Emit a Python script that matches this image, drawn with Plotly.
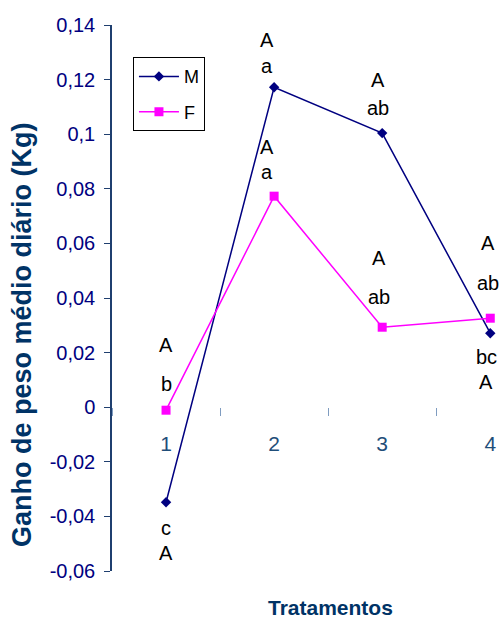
import plotly.graph_objects as go

# data
tratamentos = ["1", "2", "3", "4"]
ganho_m = [-0.0348, 0.1172, 0.1004, 0.0271]
ganho_f = [-0.0011, 0.0773, 0.0293, 0.0326]

letras_min_m = ["c", "a", "ab", "bc"]
letras_mai_m = ["A", "A", "A", "A"]
letras_min_f = ["b", "a", "ab", "ab"]
letras_mai_f = ["A", "A", "A", "A"]

y_tickvals = [0.14, 0.12, 0.10, 0.08, 0.06, 0.04, 0.02, 0, -0.02, -0.04, -0.06]
y_ticktext = ["0,14", "0,12", "0,1", "0,08", "0,06", "0,04", "0,02", "0",
              "-0,02", "-0,04", "-0,06"]

FONT = "Liberation Sans, Arial, sans-serif"
NAVY = "#000080"
MAGENTA = "#FF00FF"

fig = go.Figure()

fig.add_trace(go.Scatter(
    x=tratamentos, y=ganho_m, name="M", mode="lines+markers",
    line=dict(color=NAVY, width=1.5),
    marker=dict(symbol="diamond", size=8, color=NAVY),
    legendgroup="m",
))
fig.add_trace(go.Scatter(
    x=tratamentos, y=ganho_f, name="F", mode="lines+markers",
    line=dict(color=MAGENTA, width=1.5),
    marker=dict(symbol="square", size=9, color=MAGENTA),
    legendgroup="f",
))

# (dx, shift of lowercase letter, shift of uppercase letter) in pixels, + = up
offs_m = [(0, -26, -51), (-7, 21, 47), (-4, 25, 53), (-4, -24, -49)]
offs_f = [(0, 26, 65), (-7, 24, 49), (-3, 30, 69), (-2, 35, 75)]

for vals, mins, mais, offs in [
    (ganho_m, letras_min_m, letras_mai_m, offs_m),
    (ganho_f, letras_min_f, letras_mai_f, offs_f),
]:
    for i, (v, lo, up, (dx, s1, s2)) in enumerate(zip(vals, mins, mais, offs)):
        for txt, s in [(lo, s1), (up, s2)]:
            fig.add_annotation(
                x=i, y=v, xref="x", yref="y", text=txt, showarrow=False,
                xshift=dx, yshift=s, xanchor="center", yanchor="middle",
                font=dict(family=FONT, size=20, color="black"),
            )

fig.add_annotation(
    text="<b>Ganho de peso médio diário (Kg)</b>",
    xref="paper", yref="paper", x=-0.232, y=0.434, textangle=-90,
    xanchor="center", yanchor="middle",
    showarrow=False, font=dict(family=FONT, size=27, color="#003366"),
)
fig.add_annotation(
    text="<b>Tratamentos</b>",
    xref="paper", yref="paper", x=0.562, y=-0.066,
    xanchor="center", yanchor="middle",
    showarrow=False, font=dict(family=FONT, size=21, color="#003366"),
)

fig.update_xaxes(
    type="category", range=[-0.5, 3.09], automargin=False,
    anchor="free", position=0.3004,
    showline=False, showgrid=False, zeroline=False,
    tickson="boundaries", ticks="outside", ticklen=8, tickwidth=1,
    tickcolor="#7f9cc0", ticklabelstandoff=22,
    tickfont=dict(family=FONT, size=21, color="#1F4E79"),
)
fig.update_yaxes(
    range=[-0.06, 0.14], tickvals=y_tickvals, ticktext=y_ticktext,
    automargin=False,
    showline=True, linecolor="#1F3F6F", linewidth=1.5,
    ticks="outside", ticklen=6, tickcolor="#1F3F6F", ticklabelstandoff=5,
    showgrid=False, zeroline=False,
    tickfont=dict(family=FONT, size=20, color=NAVY),
)

fig.update_layout(
    width=500, height=619,
    margin=dict(l=112, r=0, t=25, b=48),
    plot_bgcolor="white", paper_bgcolor="white",
    showlegend=True,
    legend=dict(
        x=0.054, y=0.941, xanchor="left", yanchor="top",
        bordercolor="black", borderwidth=1, bgcolor="white",
        font=dict(family=FONT, size=18, color="black"),
        itemwidth=40, tracegroupgap=9,
    ),
)

# drop the default page margin so the figure fills the window exactly
fig.write_html(
    "out.html",
    config={"displayModeBar": False},
    post_script="document.body.style.margin='0';"
                "document.body.style.overflow='hidden';",
)
